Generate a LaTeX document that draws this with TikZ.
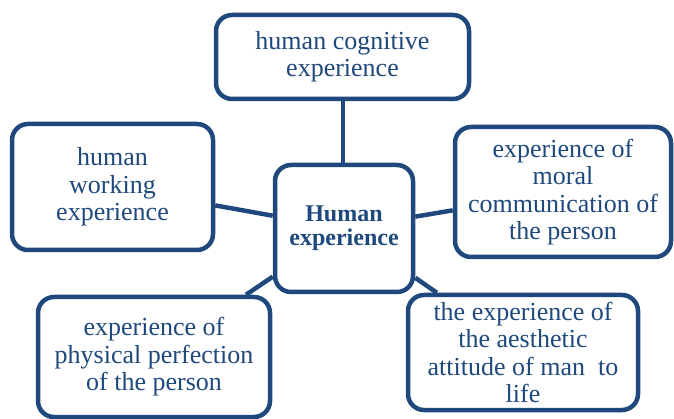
\documentclass[tikz,border=0pt]{standalone}
\usepackage{fontspec}
\setmainfont{Liberation Serif}
\definecolor{dblue}{HTML}{1F497D}
\begin{document}
\begin{tikzpicture}[x=1pt,y=-1pt,
  box/.style={draw=dblue, line width=4.5pt, rounded corners=16pt, fill=white,
    align=center, text=dblue, inner sep=0pt,
    font=\fontsize{26}{27.5}\selectfont},
  hubbox/.style={box, font=\fontsize{24}{24}\selectfont\bfseries},
  link/.style={draw=dblue, line width=4.5pt}]
\useasboundingbox (0,0) rectangle (674,419);
\node[hubbox, minimum width=138pt, minimum height=127pt] (hub) at (344,228.5) {Human\\experience};
\node[box, minimum width=253pt, minimum height=84pt] (cog) at (342.5,57) {human cognitive\\experience};
\node[box, minimum width=201pt, minimum height=126pt] (work) at (112.5,187) {human\\working\\experience};
\node[box, minimum width=216pt, minimum height=130pt] (moral) at (563,192) {experience of\\moral\\communication of\\the person};
\node[box, minimum width=232pt, minimum height=120pt] (phys) at (154,357) {experience of\\physical perfection\\of the person};
\node[box, minimum width=230pt, minimum height=115pt] (aest) at (523,352.5) {the experience of\\the aesthetic\\attitude of man~ to\\life};
\draw[link] (cog.south -| 343,0) -- (hub.north -| 343,0);
\draw[link] (hub) -- (work);
\draw[link] (hub) -- (moral);
\draw[link] (hub) -- (phys);
\draw[link] (hub) -- (aest);
\end{tikzpicture}
\end{document}
